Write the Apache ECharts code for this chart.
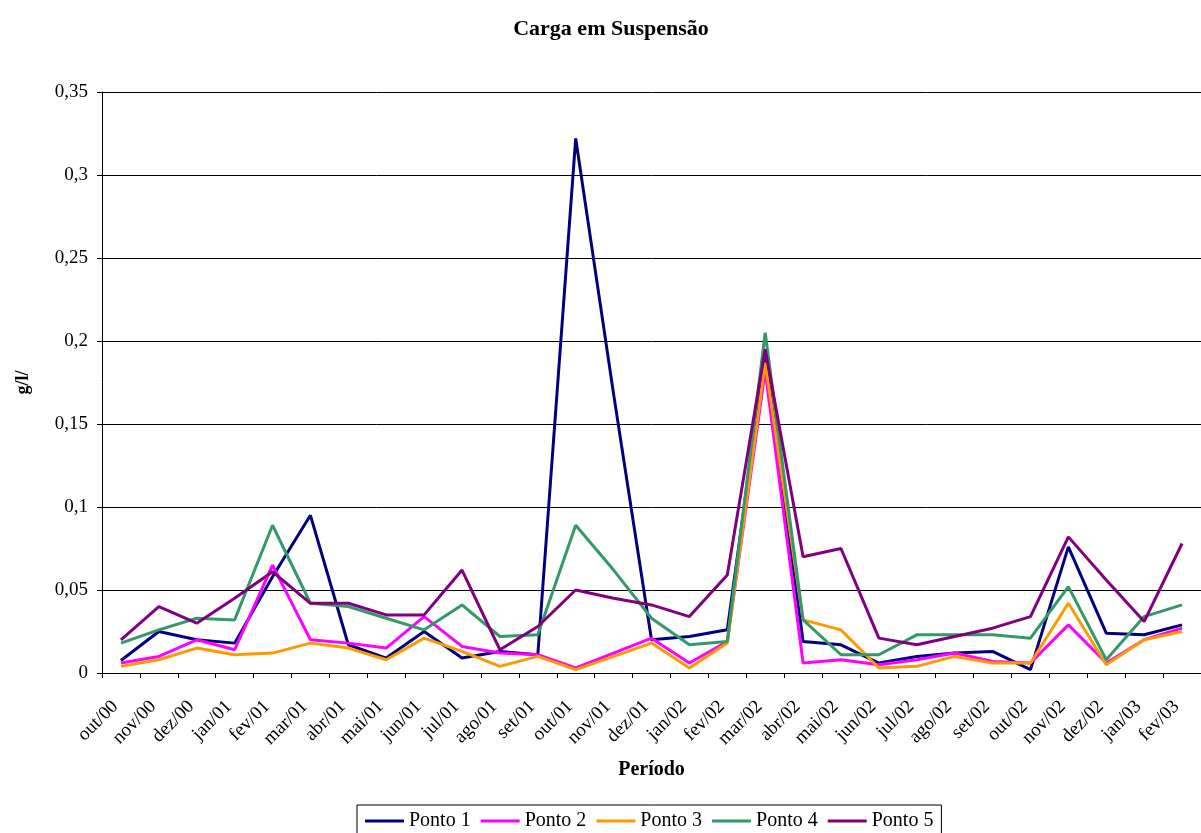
<!DOCTYPE html>
<html>
<head>
<meta charset="utf-8">
<script src="https://cdn.jsdelivr.net/npm/echarts@6/dist/echarts.min.js"></script>
<style>
  html, body { margin: 0; padding: 0; background: #fff; }
  #chart { width: 1201px; height: 833px; }
</style>
</head>
<body>
<div id="chart"></div>
<script>
// dados
var categorias = ['out/00', 'nov/00', 'dez/00', 'jan/01', 'fev/01', 'mar/01', 'abr/01', 'mai/01',
  'jun/01', 'jul/01', 'ago/01', 'set/01', 'out/01', 'nov/01', 'dez/01', 'jan/02', 'fev/02',
  'mar/02', 'abr/02', 'mai/02', 'jun/02', 'jul/02', 'ago/02', 'set/02', 'out/02', 'nov/02',
  'dez/02', 'jan/03', 'fev/03'];
var ponto1 = [0.0075, 0.025, 0.020, 0.018, 0.058, 0.095, 0.017, 0.009, 0.025, 0.009, 0.013, 0.011,
  0.322, 0.168, 0.020, 0.022, 0.026, 0.192, 0.019, 0.017, 0.006, 0.010, 0.012, 0.013, 0.002,
  0.076, 0.024, 0.023, 0.029];
var ponto2 = [0.006, 0.010, 0.020, 0.014, 0.065, 0.020, 0.018, 0.015, 0.034, 0.016, 0.012, 0.011,
  0.003, 0.012, 0.021, 0.006, 0.019, 0.182, 0.006, 0.008, 0.005, 0.008, 0.012, 0.007, 0.006,
  0.029, 0.006, 0.020, 0.027];
var ponto3 = [0.004, 0.008, 0.015, 0.011, 0.012, 0.018, 0.015, 0.008, 0.021, 0.013, 0.004, 0.010,
  0.002, 0.010, 0.018, 0.003, 0.018, 0.187, 0.032, 0.026, 0.003, 0.004, 0.010, 0.006, 0.006,
  0.042, 0.005, 0.020, 0.025];
var ponto4 = [0.018, 0.026, 0.033, 0.032, 0.089, 0.042, 0.040, 0.033, 0.026, 0.041, 0.022, 0.023,
  0.089, 0.062, 0.033, 0.017, 0.019, 0.205, 0.032, 0.011, 0.011, 0.023, 0.023, 0.023, 0.021,
  0.052, 0.008, 0.034, 0.041];
var ponto5 = [0.020, 0.040, 0.030, 0.045, 0.061, 0.042, 0.042, 0.035, 0.035, 0.062, 0.014, 0.028,
  0.050, 0.045, 0.041, 0.034, 0.059, 0.195, 0.070, 0.075, 0.021, 0.017, 0.022, 0.027, 0.034,
  0.082, 0.056, 0.031, 0.078];
var nomes = ['Ponto 1', 'Ponto 2', 'Ponto 3', 'Ponto 4', 'Ponto 5'];
var cores = ['#000080', '#FF00FF', '#FF9900', '#339966', '#800080'];

var fonte = 'Liberation Serif, Times New Roman, serif';
var chart = echarts.init(document.getElementById('chart'));

var series = [ponto1, ponto2, ponto3, ponto4, ponto5].map(function (d, i) {
  return {
    name: nomes[i],
    type: 'line',
    data: d,
    symbol: 'none',
    lineStyle: { width: 3, color: cores[i] },
    itemStyle: { color: cores[i] }
  };
});

var option = {
  animation: false,
  color: cores,
  title: {
    text: 'Carga em Suspensão',
    left: 606,
    textAlign: 'center',
    top: 13,
    textStyle: { fontFamily: fonte, fontSize: 22, fontWeight: 'bold', color: '#000' }
  },
  legend: {
    data: nomes,
    left: 357,
    top: 805,
    orient: 'horizontal',
    icon: 'rect',
    itemWidth: 39,
    itemHeight: 3,
    itemGap: 10,
    padding: [6, 8, 6, 8],
    borderColor: '#000',
    borderWidth: 1,
    textStyle: { fontFamily: fonte, fontSize: 20, color: '#000' }
  },
  grid: {
    left: 102,
    right: -9,
    top: 92,
    bottom: 160
  },
  xAxis: {
    type: 'category',
    data: categorias,
    boundaryGap: true,
    name: 'Período',
    nameLocation: 'middle',
    nameGap: 87,
    nameTextStyle: { fontFamily: fonte, fontSize: 20, fontWeight: 'bold', color: '#000' },
    axisLine: { lineStyle: { color: '#000', width: 1 } },
    axisTick: { show: true, length: 5, interval: 0, lineStyle: { color: '#000' } },
    axisLabel: {
      interval: 0,
      rotate: 45,
      margin: 25,
      padding: [0, 8, 0, 0],
      fontFamily: fonte,
      fontSize: 19,
      color: '#000'
    },
    splitLine: { show: false }
  },
  yAxis: {
    type: 'value',
    min: 0,
    max: 0.35,
    interval: 0.05,
    name: 'g/l/',
    nameLocation: 'middle',
    nameGap: 70,
    nameTextStyle: { fontFamily: fonte, fontSize: 18, fontWeight: 'bold', color: '#000' },
    axisLine: { show: true, lineStyle: { color: '#000', width: 1 } },
    axisTick: { show: true, length: 5, lineStyle: { color: '#000' } },
    axisLabel: {
      margin: 14,
      fontFamily: fonte,
      fontSize: 19,
      color: '#000',
      formatter: function (v) { return String(+v.toFixed(2)).replace('.', ','); }
    },
    splitLine: { lineStyle: { color: '#000', width: 1 } }
  },
  series: series
};
chart.setOption(option);
</script>
</body>
</html>
